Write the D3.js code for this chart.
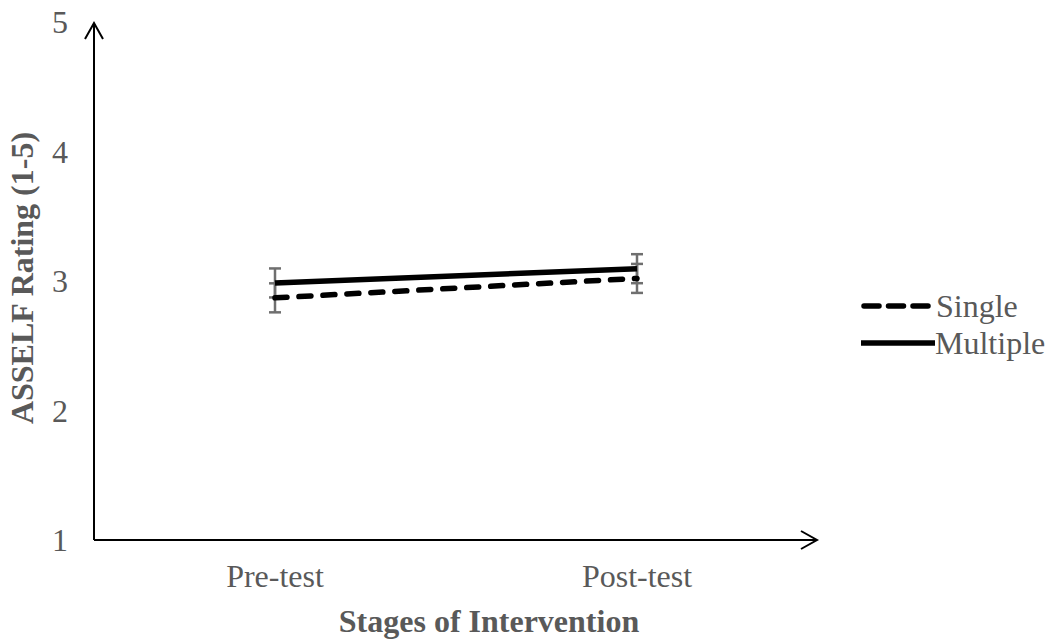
<!DOCTYPE html>
<html>
<head>
<meta charset="utf-8">
<script src="https://cdn.jsdelivr.net/npm/d3@7"></script>
<style>
  body { margin: 0; background: #fff; }
  text { font-family: "Liberation Serif", "Times New Roman", serif; }
</style>
</head>
<body>
<svg width="1052" height="639"></svg>
<script>
var stages = ["Pre-test", "Post-test"];
var yTicks = [1, 2, 3, 4, 5];
var singleMeans = [2.87, 3.02];
var multipleMeans = [2.985, 3.095];
var singleErr = [0.112, 0.112];
var multipleErr = [0.112, 0.112];
var seriesNames = ["Single", "Multiple"];

var svg = d3.select("svg");
var plotLeft = 94, plotRight = 818, plotTop = 22, plotBottom = 540;
var grey = "#595959";
var fs = 32;

var x = d3.scaleBand().domain(stages).range([plotLeft, plotRight]);
var y = d3.scaleLinear().domain([1, 5]).range([plotBottom, plotTop]);

// axes with arrowheads
var axisG = svg.append("g").attr("stroke", "#000").attr("stroke-width", 2).attr("fill", "none");
axisG.append("line").attr("x1", plotLeft).attr("y1", plotBottom).attr("x2", plotLeft).attr("y2", plotTop + 1);
axisG.append("path").attr("d", "M" + (plotLeft - 9) + "," + (plotTop + 17) + "L" + plotLeft + "," + (plotTop + 1) + "L" + (plotLeft + 9) + "," + (plotTop + 17));
axisG.append("line").attr("x1", plotLeft).attr("y1", plotBottom).attr("x2", plotRight - 1).attr("y2", plotBottom);
axisG.append("path").attr("d", "M" + (plotRight - 17) + "," + (plotBottom - 9) + "L" + (plotRight - 1) + "," + plotBottom + "L" + (plotRight - 17) + "," + (plotBottom + 9));

// y tick labels
svg.append("g").selectAll("text").data(yTicks).join("text")
    .attr("x", 68).attr("y", function (d) { return y(d); })
    .attr("dy", "0.35em").attr("text-anchor", "end")
    .attr("font-size", fs).attr("fill", grey)
    .text(function (d) { return d; });

// x tick labels
svg.append("g").selectAll("text").data(stages).join("text")
    .attr("x", function (d) { return x(d) + x.bandwidth() / 2; }).attr("y", 587)
    .attr("text-anchor", "middle").attr("font-size", fs).attr("fill", grey)
    .text(function (d) { return d; });

svg.append("text").attr("x", 489).attr("y", 632).attr("text-anchor", "middle")
    .attr("font-size", fs).attr("font-weight", "bold").attr("fill", grey)
    .text("Stages of Intervention");

svg.append("text").attr("transform", "translate(33,278) rotate(-90)").attr("text-anchor", "middle")
    .attr("font-size", fs).attr("font-weight", "bold").attr("fill", grey)
    .text("ASSELF Rating (1-5)");

var cx = function (i) { return x(stages[i]) + x.bandwidth() / 2; };

// error bars
function errorBars(means, errs) {
    var g = svg.append("g").attr("stroke", "#6f6f6f").attr("stroke-width", 2.5);
    means.forEach(function (m, i) {
        var lo = y(m - errs[i]), hi = y(m + errs[i]), c = cx(i);
        g.append("line").attr("x1", c).attr("x2", c).attr("y1", lo).attr("y2", hi);
        g.append("line").attr("x1", c - 6).attr("x2", c + 6).attr("y1", lo).attr("y2", lo);
        g.append("line").attr("x1", c - 6).attr("x2", c + 6).attr("y1", hi).attr("y2", hi);
    });
}
errorBars(singleMeans, singleErr);
errorBars(multipleMeans, multipleErr);

var line = d3.line().x(function (d, i) { return cx(i); }).y(function (d) { return y(d); });

svg.append("path").datum(singleMeans).attr("d", line)
    .attr("fill", "none").attr("stroke", "#000").attr("stroke-width", 5.5)
    .attr("stroke-linecap", "round").attr("stroke-dasharray", "12,12");
svg.append("path").datum(multipleMeans).attr("d", line)
    .attr("fill", "none").attr("stroke", "#000").attr("stroke-width", 5.5);

// legend
var leg = svg.append("g");
leg.append("line").attr("x1", 864).attr("x2", 928).attr("y1", 306).attr("y2", 306)
    .attr("stroke", "#000").attr("stroke-width", 5.5).attr("stroke-linecap", "round")
    .attr("stroke-dasharray", "15,9.5");
leg.append("line").attr("x1", 861).attr("x2", 935).attr("y1", 343).attr("y2", 343)
    .attr("stroke", "#000").attr("stroke-width", 5.5);
leg.append("text").attr("x", 936).attr("y", 306).attr("dy", "0.35em")
    .attr("font-size", fs).attr("fill", grey).text(seriesNames[0]);
leg.append("text").attr("x", 935).attr("y", 343).attr("dy", "0.35em")
    .attr("font-size", fs).attr("fill", grey).text(seriesNames[1]);
</script>
</body>
</html>
